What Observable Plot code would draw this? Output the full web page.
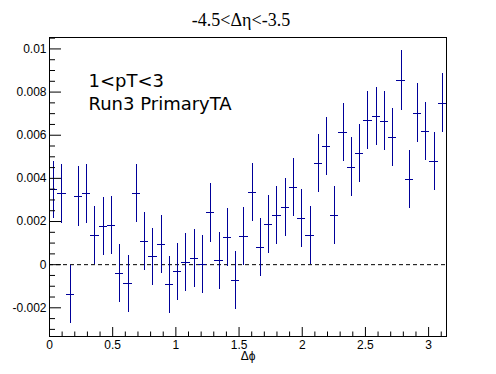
<!DOCTYPE html>
<html>
<head>
<meta charset="utf-8">
<script src="https://cdn.jsdelivr.net/npm/d3@7"></script>
<script src="https://cdn.jsdelivr.net/npm/@observablehq/plot@0.6"></script>
<style>
  html, body { margin: 0; padding: 0; background: #fff; }
</style>
</head>
<body>
<div id="chart"></div>
<script>
// Bin centres of Δφ (48 bins over 0..π)
const binCenters = [0.0327, 0.0982, 0.1636, 0.2291, 0.2945, 0.3600, 0.4254, 0.4909,
  0.5563, 0.6218, 0.6872, 0.7527, 0.8181, 0.8836, 0.9490, 1.0145, 1.0799, 1.1454,
  1.2108, 1.2763, 1.3417, 1.4072, 1.4726, 1.5381, 1.6035, 1.6690, 1.7344, 1.7999,
  1.8653, 1.9308, 1.9962, 2.0617, 2.1271, 2.1926, 2.2580, 2.3235, 2.3889, 2.4544,
  2.5198, 2.5853, 2.6507, 2.7162, 2.7816, 2.8471, 2.9125, 2.9780, 3.0434, 3.1089];
const binHalfWidth = 0.0327;
const values = [0.00347, 0.00329, -0.00139, 0.00316, 0.00329, 0.00135, 0.00176, 0.00181,
  -0.00040, -0.00088, 0.00329, 0.00108, 0.00037, 0.00093, -0.00093, -0.00032, 0.00009, 0.00028,
  0.00000, 0.00241, 0.00019, 0.00125, -0.00074, 0.00130, 0.00336, 0.00079, 0.00186, 0.00227,
  0.00264, 0.00357, 0.00213, 0.00135, 0.00469, 0.00548, 0.00227, 0.00613, 0.00452, 0.00515,
  0.00668, 0.00687, 0.00665, 0.00589, 0.00854, 0.00394, 0.00702, 0.00619, 0.00478, 0.00748];
const errors = [0.00133, 0.00136, 0.00134, 0.00137, 0.00136, 0.00135, 0.00135, 0.00135,
  0.00135, 0.00132, 0.00134, 0.00135, 0.00132, 0.00135, 0.00132, 0.00132, 0.00135, 0.00135,
  0.00135, 0.00137, 0.00132, 0.00135, 0.00135, 0.00133, 0.00134, 0.00134, 0.00134, 0.00135,
  0.00135, 0.00134, 0.00135, 0.00135, 0.00135, 0.00136, 0.00135, 0.00136, 0.00136, 0.00134,
  0.00136, 0.00136, 0.00136, 0.00136, 0.00138, 0.00134, 0.00136, 0.00134, 0.00135, 0.00137];

const xMajorTicks = [0, 0.5, 1, 1.5, 2, 2.5, 3];
const xTickLabels = ["0", "0.5", "1", "1.5", "2", "2.5", "3"];
const xMinorTicks = [0.1,0.2,0.3,0.4,0.6,0.7,0.8,0.9,1.1,1.2,1.3,1.4,1.6,1.7,1.8,1.9,2.1,2.2,2.3,2.4,2.6,2.7,2.8,2.9,3.1];
const yMajorTicks = [-0.002, 0, 0.002, 0.004, 0.006, 0.008, 0.01];
const yTickLabels = ["-0.002", "0", "0.002", "0.004", "0.006", "0.008", "0.01"];
const yMinorTicks = [-0.003, -0.0025, -0.0015, -0.001, -0.0005, 0.0005, 0.001, 0.0015,
  0.0025, 0.003, 0.0035, 0.0045, 0.005, 0.0055, 0.0065, 0.007, 0.0075, 0.0085, 0.009, 0.0095, 0.0105];

const titleText = "-4.5<Δη<-3.5";
const xLabel = "Δϕ";
const note1 = "1<pT<3";
const note2 = "Run3 PrimaryTA";

const W = 496, H = 374;
const mL = 49, mR = 50, mT = 37, mB = 38;
const pw = W - mL - mR, ph = H - mT - mB;
const col = "#000099";
const sans = "'Liberation Sans', Arial, Helvetica, sans-serif";

const data = binCenters.map((x, i) => ({x, v: values[i], e: errors[i]}));
const xFmt = d => xTickLabels[xMajorTicks.findIndex(t => Math.abs(t - d) < 1e-9)] ?? "";
const yFmt = d => yTickLabels[yMajorTicks.findIndex(t => Math.abs(t - d) < 1e-9)] ?? "";

const chart = Plot.plot({
  width: W, height: H,
  marginLeft: mL, marginRight: mR, marginTop: mT, marginBottom: mB,
  style: {fontFamily: sans, fontSize: "12px", background: "#fff", color: "#000"},
  x: {domain: [0, Math.PI]},
  y: {domain: [-0.00333, 0.01053]},
  marks: [
    Plot.ruleY([0], {stroke: "#000", strokeDasharray: "4,3", strokeWidth: 1}),
    Plot.ruleX(data, {x: "x", y1: d => d.v - d.e, y2: d => d.v + d.e, stroke: col, strokeWidth: 1, shapeRendering: "crispEdges", clip: true}),
    Plot.ruleY(data, {y: "v", x1: d => d.x - binHalfWidth, x2: d => d.x + binHalfWidth, stroke: col, strokeWidth: 1, shapeRendering: "crispEdges", clip: true}),
    Plot.frame({stroke: "#000", strokeWidth: 1}),
    Plot.tickX(xMajorTicks, {x: d => d, insetTop: ph - 9, stroke: "#000"}),
    Plot.tickX(xMinorTicks, {x: d => d, insetTop: ph - 4.5, stroke: "#000"}),
    Plot.tickY(yMajorTicks, {y: d => d, insetRight: pw - 12, stroke: "#000"}),
    Plot.tickY(yMinorTicks, {y: d => d, insetRight: pw - 6, stroke: "#000"}),
    Plot.axisX(xMajorTicks, {tickSize: 0, tickPadding: 4, label: null, fontSize: 12, tickFormat: xFmt, fontFamily: sans}),
    Plot.axisY(yMajorTicks, {tickSize: 0, tickPadding: 3, label: null, fontSize: 12, tickFormat: yFmt, fontFamily: sans}),
    Plot.text([xLabel], {frameAnchor: "bottom", dy: 20, dx: 0, text: d => d, fontSize: 12, lineAnchor: "middle", fontFamily: sans}),
    Plot.text([titleText], {frameAnchor: "top", dx: -7, dy: -17, text: d => d, fontSize: 18, lineAnchor: "middle", fontFamily: "'Liberation Serif', 'Times New Roman', serif"}),
    Plot.text([note1], {frameAnchor: "top-left", dx: 39, dy: 43.5, text: d => d, textAnchor: "start", lineAnchor: "middle", fontSize: 18, fontFamily: "'DejaVu Sans', sans-serif"}),
    Plot.text([note2], {frameAnchor: "top-left", dx: 39, dy: 66.5, text: d => d, textAnchor: "start", lineAnchor: "middle", fontSize: 18, fontFamily: "'DejaVu Sans', sans-serif"})
  ]
});
document.getElementById("chart").appendChild(chart);
</script>
</body>
</html>
